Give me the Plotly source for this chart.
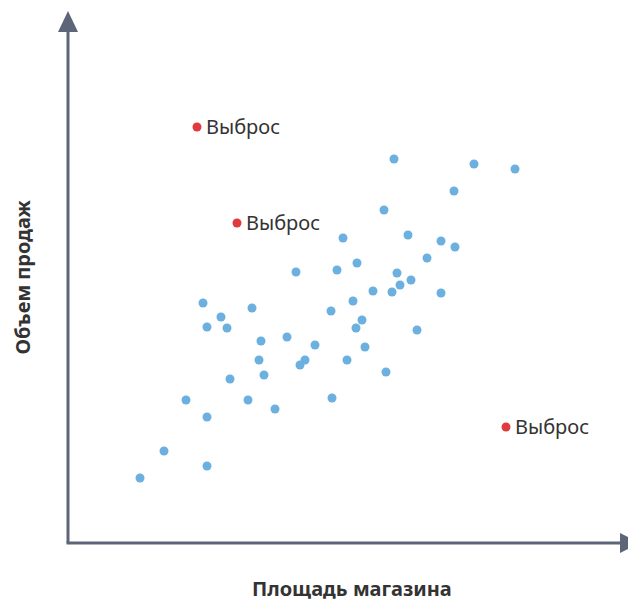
import plotly.graph_objects as go

# Store area (x) vs sales volume (y), arbitrary units
area = [326, 406, 447, 386, 316, 275, 340, 373, 387, 359, 289, 228, 269, 329, 343, 332,
        305, 324, 373, 285, 135, 184, 153, 263, 294, 139, 159, 288, 349, 219, 193, 247,
        297, 191, 237, 232, 279, 196, 318, 162, 118, 180, 264, 207, 139, 96, 139, 72]
sales = [384, 379, 374, 352, 333, 305, 308, 302, 296, 285, 280, 271, 273, 270, 263, 258,
         252, 251, 250, 242, 240, 235, 226, 232, 223, 216, 215, 215, 213, 206, 202, 198,
         196, 183, 183, 178, 183, 168, 171, 164, 143, 143, 145, 134, 126, 92, 77, 65]

outlier_area = [129, 169, 438]
outlier_sales = [416, 320, 116]
outlier_label = "Выброс"

x_title = "Площадь магазина"
y_title = "Объем продаж"

# page body has an 8px margin, so the figure is sized to the remaining window
W, H = 628, 596
ML, MR, MT, MB = 60, 0, 4, 61
plot_w = W - ML - MR
plot_h = H - MT - MB

AXIS = "#5d6679"
BLUE = "#6cb0e0"
RED = "#e03a3e"
TEXT = "#333333"
FONT = "Noto Sans"

fig = go.Figure()
fig.add_trace(go.Scatter(x=area, y=sales, mode="markers",
                         marker=dict(color=BLUE, size=9, line=dict(width=0)),
                         hoverinfo="skip", showlegend=False))
fig.add_trace(go.Scatter(x=outlier_area, y=outlier_sales, mode="markers",
                         marker=dict(color=RED, size=9, line=dict(width=0)),
                         hoverinfo="skip", showlegend=False))

annotations = []
for xa, ya in zip(outlier_area, outlier_sales):
    annotations.append(dict(x=xa, y=ya, xref="x", yref="y", text=outlier_label,
                            showarrow=False, xanchor="left", yanchor="middle",
                            xshift=7, yshift=1,
                            font=dict(family=FONT, size=20, color=TEXT)))

annotations.append(dict(x=0.5, y=-45 / plot_h, xref="paper", yref="paper",
                        text="<b>" + x_title + "</b>", showarrow=False,
                        xanchor="center", yanchor="middle",
                        font=dict(family=FONT, size=20, color=TEXT)))
annotations.append(dict(x=-46 / plot_w, y=0.5, xref="paper", yref="paper",
                        text="<b>" + y_title + "</b>", showarrow=False, textangle=-90,
                        xanchor="center", yanchor="middle",
                        font=dict(family=FONT, size=20, color=TEXT)))

def px(dx):
    return dx / plot_w

def py(dy):
    return dy / plot_h

shapes = [
    # y axis line + arrow head
    dict(type="line", xref="paper", yref="paper", x0=0, x1=0, y0=0, y1=1 - py(19),
         line=dict(color=AXIS, width=3)),
    dict(type="path", xref="paper", yref="paper",
         path=f"M {px(-10)},{1 - py(20)} L {px(10)},{1 - py(20)} L 0,{1 + py(1)} Z",
         fillcolor=AXIS, line=dict(width=0)),
    # x axis line + arrow head
    dict(type="line", xref="paper", yref="paper", x0=px(-1.5), x1=1 - px(16), y0=0, y1=0,
         line=dict(color=AXIS, width=3)),
    dict(type="path", xref="paper", yref="paper",
         path=f"M {1 - px(16)},{py(10)} L {1 - px(16)},{py(-10)} L {1 + px(4)},0 Z",
         fillcolor=AXIS, line=dict(width=0)),
]

fig.update_layout(
    width=W, height=H,
    margin=dict(l=ML, r=MR, t=MT, b=MB),
    paper_bgcolor="white", plot_bgcolor="white",
    xaxis=dict(range=[0, plot_w], showgrid=False, zeroline=False, showline=False,
               showticklabels=False, ticks="", fixedrange=True),
    yaxis=dict(range=[0, plot_h], showgrid=False, zeroline=False, showline=False,
               showticklabels=False, ticks="", fixedrange=True),
    annotations=annotations,
    shapes=shapes,
    font=dict(family=FONT),
)

fig.write_html("out.html")
